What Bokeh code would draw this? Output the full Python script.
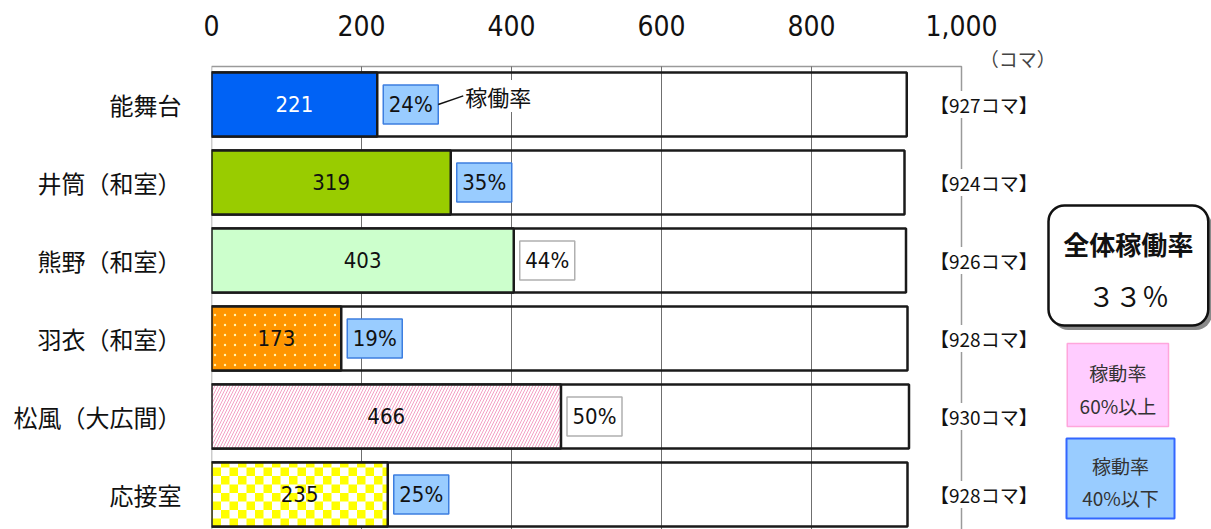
from bokeh.plotting import figure
from bokeh.models import Range1d, FixedTicker, NumeralTickFormatter, CanvasTexture
from bokeh.core.properties import value
from bokeh.embed import file_html
from bokeh.resources import INLINE

# ---- data ----
categories = ["能舞台", "井筒（和室）", "熊野（和室）", "羽衣（和室）", "松風（大広間）", "応接室"]
total_slots = [927, 924, 926, 928, 930, 928]
used_slots = [221, 319, 403, 173, 466, 235]
rate_pct = [24, 35, 44, 19, 50, 25]
x_ticks = [0, 200, 400, 600, 800, 1000]
overall_rate_text = "３３％"

# ---- styles ----
bar_fill = ["#0062f5", "#99cc00", "#ccffcc", "#ff9500", "#ffffff", "#ffffff"]
bar_hatch = [" ", " ", " ", "smalldots", "right_diagonal_line", "checker"]
bar_hatch_color = ["#ffffff", "#ffffff", "#ffffff", "#fff2b0", "#f4a0c4", "#ffff00"]
bar_hatch_scale = [10, 10, 10, 10, 6, 17]
bar_hatch_weight = [1, 1, 1, 1, 1, 1]
value_color = ["#ffffff", "#111111", "#111111", "#111111", "#111111", "#111111"]

checker = CanvasTexture(repetition="repeat", code="""
const c = ctx.canvas;
c.width = 17; c.height = 17;
const g = c.getContext("2d");
g.setTransform(1, 0, 0, 1, 0, 0);
g.clearRect(0, 0, 17, 17);
g.fillStyle = "#ffff00";
g.fillRect(0, 0, 8.5, 8.5);
g.fillRect(8.5, 8.5, 8.5, 8.5);
""")
smalldots = CanvasTexture(repetition="repeat", code="""
const c = ctx.canvas;
c.width = 10; c.height = 10;
const g = c.getContext("2d");
g.setTransform(1, 0, 0, 1, 0, 0);
g.clearRect(0, 0, 10, 10);
g.fillStyle = "#fff2b0";
g.beginPath();
g.arc(5, 5, 1.2, 0, 2 * Math.PI);
g.fill();
""")

NARROW_NAME = "DejaVu Sans Condensed, Liberation Sans, sans-serif"
NARROW = value(NARROW_NAME)
CJK = value("Noto Sans CJK JP")
PX = 0.75  # pixels per data unit
ys = list(range(len(categories)))

p = figure(width=1211, height=529,
           x_range=Range1d(0, 1000 / PX), y_range=Range1d(5.449, -0.756),
           x_axis_location="above", output_backend="svg", toolbar_location=None,
           min_border_left=211, min_border_right=0, min_border_top=45, min_border_bottom=0)
p.outline_line_color = None
p.xgrid.visible = False
p.ygrid.visible = False

p.xaxis.ticker = FixedTicker(ticks=x_ticks)
p.xaxis.formatter = NumeralTickFormatter(format="0,0")
p.xaxis.major_label_text_font = NARROW_NAME
p.xaxis.major_label_text_font_size = "28px"
p.xaxis.major_label_text_color = "#111111"
p.xaxis.axis_line_color = None
p.xaxis.major_tick_line_color = None
p.xaxis.minor_tick_line_color = None
p.xaxis.major_label_standoff = 4

p.yaxis.ticker = FixedTicker(ticks=ys)
p.yaxis.major_label_overrides = {i: c for i, c in enumerate(categories)}
p.yaxis.major_label_text_font = "Noto Sans CJK JP"
p.yaxis.major_label_text_font_size = "24px"
p.yaxis.major_label_text_color = "#111111"
p.yaxis.axis_line_color = None
p.yaxis.major_tick_line_color = None
p.yaxis.minor_tick_line_color = None
p.yaxis.major_label_standoff = 24

frame_top = -0.487
frame_bottom = 5.7
# chart frame & grid
p.quad(left=[x_ticks[0]], right=[x_ticks[-1]], top=[frame_top], bottom=[frame_bottom],
       fill_color=None, line_color="#9a9a9a", line_width=1.5)
p.segment(x0=x_ticks[1:-1], x1=x_ticks[1:-1], y0=[frame_top] * 4, y1=[frame_bottom] * 4,
          line_color="#6f6f6f", line_width=1)

# total slots (outline) bars
p.hbar(y=ys, left=0, right=total_slots, height=0.82, fill_color=None,
       line_color="#1a1a1a", line_width=2.5)
# used slots bars
p.hbar(y=ys, left=0, right=used_slots, height=0.82, fill_color=bar_fill,
       hatch_pattern=bar_hatch, hatch_color=bar_hatch_color, hatch_scale=bar_hatch_scale,
       hatch_weight=bar_hatch_weight,
       hatch_extra={"checker": checker, "smalldots": smalldots},
       line_color="#1a1a1a", line_width=2.5)

p.text(x=[u / 2 for u in used_slots], y=ys, text=[str(u) for u in used_slots],
       text_align="center", text_baseline="middle", text_color=value_color,
       text_font=NARROW, text_font_size="22px")

# percentage boxes
box_x = [u + 33.5 / PX for u in used_slots]
box_fill = ["#99ccff" if r <= 40 else "#ffffff" for r in rate_pct]
box_line = ["#3d7ee0" if r <= 40 else "#b0b0b0" for r in rate_pct]
p.rect(x=box_x, y=ys, width=55, height=39, width_units="screen", height_units="screen",
       fill_color=box_fill, line_color=box_line, line_width=1.5)
p.text(x=box_x, y=ys, text=[f"{r}%" for r in rate_pct], text_align="center",
       text_baseline="middle", text_color="#111111", text_font=NARROW, text_font_size="22px")

# callout 稼働率
p.segment(x0=[used_slots[0] + 61 / PX], y0=[ys[0]], x1=[used_slots[0] + 86 / PX], y1=[ys[0] - 0.11],
          line_color="#111111", line_width=1.5)
p.text(x=[used_slots[0] + 88 / PX], y=[ys[0] - 0.11], text=["稼働率"], text_align="left",
       text_baseline="middle", text_color="#111111", text_font=CJK, text_font_size="22px",
       background_fill_color="#ffffff")

# total labels on right
p.text(x=[958] * len(ys), y=ys, text=[f"【{t}コマ】" for t in total_slots], text_align="left",
       text_baseline="middle", text_color="#111111", text_font=CJK, text_font_size="19px",
       background_fill_color="#ffffff")
p.text(x=[1075], y=[-0.59], text=["（コマ）"], text_align="center", text_baseline="middle",
       text_color="#444444", text_font=CJK, text_font_size="19px")

# overall rate box
p.quad(left=[1121], right=[1334], top=[1.35], bottom=[2.89], fill_color="#8a8a8a",
       line_color=None, border_radius=16)
p.quad(left=[1116], right=[1329], top=[1.295], bottom=[2.833], fill_color="#ffffff",
       line_color="#111111", line_width=2.5, border_radius=16)
p.text(x=[1222.5], y=[1.78], text=["全体稼働率"], text_align="center", text_baseline="middle",
       text_color="#111111", text_font=CJK, text_font_size="26px", text_font_style="bold")
p.text(x=[1222.5], y=[2.45], text=[overall_rate_text], text_align="center", text_baseline="middle",
       text_color="#111111", text_font=CJK, text_font_size="27px")

# legend boxes
p.quad(left=[1141], right=[1276], top=[3.064], bottom=[4.128], fill_color="#ffccff",
       line_color="#ffa6dc", line_width=1.5)
p.text(x=[1208.5, 1208.5], y=[3.436, 3.86], text=["稼動率", "60%以上"], text_align="center",
       text_baseline="middle", text_color="#333333", text_font=CJK, text_font_size="19px")
p.quad(left=[1140], right=[1284], top=[4.282], bottom=[5.308], fill_color="#99ccff",
       line_color="#3366ff", line_width=2)
p.text(x=[1212, 1212], y=[4.63, 5.04], text=["稼動率", "40%以下"], text_align="center",
       text_baseline="middle", text_color="#333333", text_font=CJK, text_font_size="19px")

open("out.html", "w").write(file_html(p, INLINE))
